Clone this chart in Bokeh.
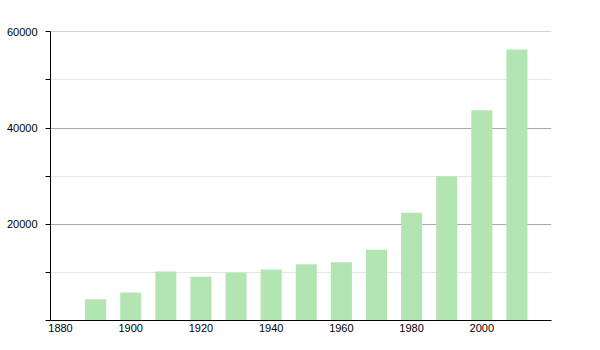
from bokeh.plotting import figure
from bokeh.models import FixedTicker, Range1d, ColumnDataSource
from bokeh.embed import file_html
from bokeh.resources import INLINE

years = [1890, 1900, 1910, 1920, 1930, 1940, 1950, 1960, 1970, 1980, 1990, 2000, 2010]
population = [4400, 5800, 10200, 9100, 10000, 10600, 11700, 12100, 14700, 22400, 30000, 43700, 56300]

x_ticks = [1880, 1900, 1920, 1940, 1960, 1980, 2000]
y_major = [0, 20000, 40000, 60000]
y_minor = [10000, 30000, 50000]

src = ColumnDataSource(dict(x=years, top=population))

p = figure(width=600, height=350, output_backend="svg", toolbar_location=None,
           x_range=Range1d(1877.15, 2019.85), y_range=Range1d(0, 60060),
           min_border_left=50, min_border_right=49, min_border_top=31, min_border_bottom=30)
p.background_fill_color = "white"
p.border_fill_color = "white"
p.outline_line_color = None

p.vbar(x="x", top="top", width=6, bottom=0, source=src,
       fill_color="#b3e5b3", line_color=None)

# x axis
p.xaxis.ticker = FixedTicker(ticks=x_ticks)
p.xaxis.major_tick_out = 0
p.xaxis.major_tick_in = 0
p.xaxis.minor_tick_out = 0
p.xaxis.minor_tick_in = 0
p.xaxis.major_label_standoff = 3
p.xaxis.axis_line_color = "black"
p.xaxis.major_label_text_font = "Liberation Sans"
p.xaxis.major_label_text_font_size = "11px"
p.xaxis.major_label_text_color = "black"
p.xgrid.grid_line_color = None

# y axis
p.yaxis.ticker = FixedTicker(ticks=y_major, minor_ticks=y_minor)
p.yaxis.major_label_overrides = {0: ""}
p.yaxis.major_tick_out = 5
p.yaxis.major_tick_in = 0
p.yaxis.minor_tick_out = 5
p.yaxis.minor_tick_in = 0
p.yaxis.major_tick_line_color = "black"
p.yaxis.minor_tick_line_color = "black"
p.yaxis.major_label_standoff = 8
p.yaxis.axis_line_color = "black"
p.yaxis.major_label_text_font = "Liberation Sans"
p.yaxis.major_label_text_font_size = "11px"
p.yaxis.major_label_text_color = "black"
p.yaxis.formatter.use_scientific = False
p.ygrid.grid_line_color = "#aaaaaa"
p.ygrid.minor_grid_line_color = "#e6e6e6"
p.ygrid.level = "underlay"

open("out.html", "w").write(file_html(p, INLINE))
